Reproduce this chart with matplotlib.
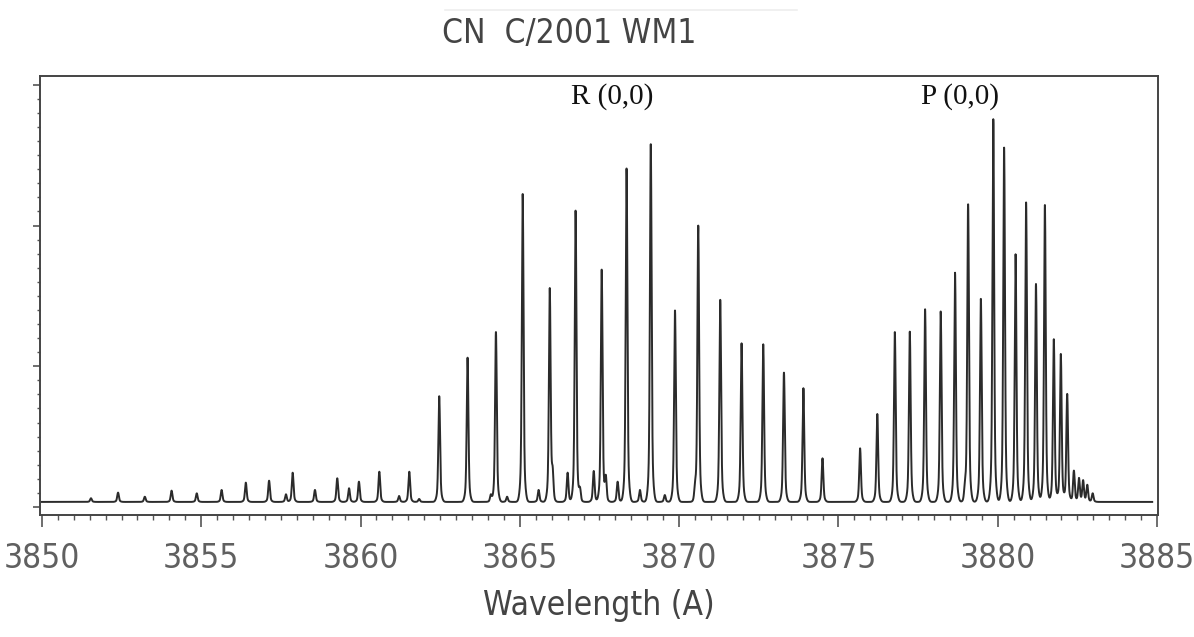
import numpy as np
import matplotlib
matplotlib.use("Agg")
import matplotlib.pyplot as plt
from matplotlib.lines import Line2D
from matplotlib.ticker import MultipleLocator
from matplotlib import font_manager as fm

# CN emission lines: wavelength (A) and peak level (plot units)
line_wl = [3851.54, 3852.39, 3853.23, 3854.07, 3854.86, 3855.64, 3856.40, 3857.13,
           3857.66, 3857.87, 3858.57, 3859.27, 3859.64, 3859.95, 3860.59, 3861.21,
           3861.53, 3861.84, 3862.47, 3863.36, 3864.09, 3864.25, 3864.60, 3865.09,
           3865.59, 3865.94, 3866.03, 3866.50, 3866.75, 3866.89, 3867.32, 3867.57,
           3867.70, 3868.07, 3868.35, 3868.77, 3869.11, 3869.55, 3869.87, 3870.50,
           3870.60, 3871.29, 3871.96, 3872.64, 3873.29, 3873.90, 3874.50, 3875.68,
           3876.22, 3876.77, 3877.24, 3877.72, 3878.21, 3878.66, 3878.97, 3879.07,
           3879.47, 3879.86, 3880.20, 3880.56, 3880.89, 3881.20, 3881.48, 3881.76,
           3881.98, 3882.18, 3882.39, 3882.55, 3882.68, 3882.81, 3882.98]
line_peak = [0.062, 0.102, 0.073, 0.116, 0.097, 0.121, 0.173, 0.187,
             0.090, 0.244, 0.121, 0.204, 0.133, 0.180, 0.251, 0.078,
             0.251, 0.057, 0.789, 1.061, 0.085, 1.246, 0.073, 2.230,
             0.121, 1.547, 0.215, 0.244, 2.111, 0.121, 0.256, 1.689,
             0.204, 0.180, 2.412, 0.121, 2.585, 0.085, 1.400, 0.109,
             1.997, 1.476, 1.163, 1.156, 0.957, 0.844, 0.346, 0.417,
             0.661, 1.246, 1.246, 1.405, 1.393, 1.665, 0.109, 2.154,
             1.483, 2.756, 2.554, 1.796, 2.170, 1.585, 2.146, 1.192,
             1.087, 0.803, 0.258, 0.204, 0.187, 0.156, 0.097]
baseline = 0.036
wl_start, wl_end = 3850.0, 3884.85

band_labels = ["R (0,0)", "P (0,0)"]
band_label_x = [3867.9, 3878.8]

# look for an upright condensed sans face, the original uses a tall narrow plotter font
narrow_file = None
for f in fm.fontManager.ttflist:
    n = (f.name + " " + str(f.stretch) + " " + f.fname).lower()
    if ("condensed" in n or "narrow" in n) and "sans" in f.name.lower() \
            and "mono" not in f.name.lower() and f.style == "normal" \
            and f.weight in (400, "normal", "regular") \
            and "bold" not in f.fname.lower() and "oblique" not in f.fname.lower():
        narrow_file = f.fname
        break
if narrow_file:
    tick_font = fm.FontProperties(fname=narrow_file, size=24)
    lab_font = fm.FontProperties(fname=narrow_file, size=24)
else:
    tick_font = fm.FontProperties(family="DejaVu Sans", size=20, weight="light")
    lab_font = fm.FontProperties(family="DejaVu Sans", size=22, weight="light")

# build the spectrum from the line list: sharp core plus a faint pedestal
wl = np.arange(wl_start, wl_end, 0.004)
flux = np.full_like(wl, baseline)
for c, p in zip(line_wl, line_peak):
    a = p - baseline
    flux += 0.85 * a * np.exp(-0.5 * ((wl - c) / 0.025) ** 2)
    flux += 0.15 * a * np.exp(-0.5 * ((wl - c) / 0.06) ** 2)

fig = plt.figure(figsize=(11.94, 6.37), dpi=100)
ax = fig.add_axes([40 / 1194, 1 - 515 / 637, 1118 / 1194, 439 / 637])

ax.plot(wl, flux, color="#2b2b2b", lw=1.4)

ax.set_xlim(3849.94, 3885.03)
ax.set_ylim(-0.057, 3.063)

grey = "#606060"

ax.xaxis.set_major_locator(MultipleLocator(5))
ax.xaxis.set_minor_locator(MultipleLocator(0.5))
ax.yaxis.set_major_locator(MultipleLocator(1))
ax.yaxis.set_minor_locator(MultipleLocator(0.1))
ax.tick_params(axis="x", which="major", direction="out", length=8.5, width=1.2,
               color="#555555", pad=11, labelcolor=grey)
ax.tick_params(axis="x", which="minor", direction="out", length=3.6, width=1.0,
               color="#555555")
ax.tick_params(axis="y", which="major", direction="out", length=5, width=1.2,
               color="#555555", labelleft=False)
ax.tick_params(axis="y", which="minor", direction="out", length=2.5, width=1.0,
               color="#555555")
for lab in ax.get_xticklabels():
    lab.set_fontproperties(tick_font)

for s in ax.spines.values():
    s.set_color("#444444")
    s.set_linewidth(1.4)

ax.set_xlabel("Wavelength (A)", fontproperties=lab_font, color="#444444",
              labelpad=10)

for t, x in zip(band_labels, band_label_x):
    ax.text(x, 2.92, t, family="Liberation Serif", fontsize=21, color="#111111",
            ha="center", va="center")

fig.text(569 / 1194, 1 - 34 / 637, "CN  C/2001 WM1", fontproperties=lab_font,
         color="#444444", ha="center", va="center")
fig.add_artist(Line2D([445 / 1194, 797 / 1194], [1 - 10 / 637, 1 - 10 / 637],
                      color="#eeeeee", lw=1.2, transform=fig.transFigure))

fig.savefig("out.png", dpi=100)
